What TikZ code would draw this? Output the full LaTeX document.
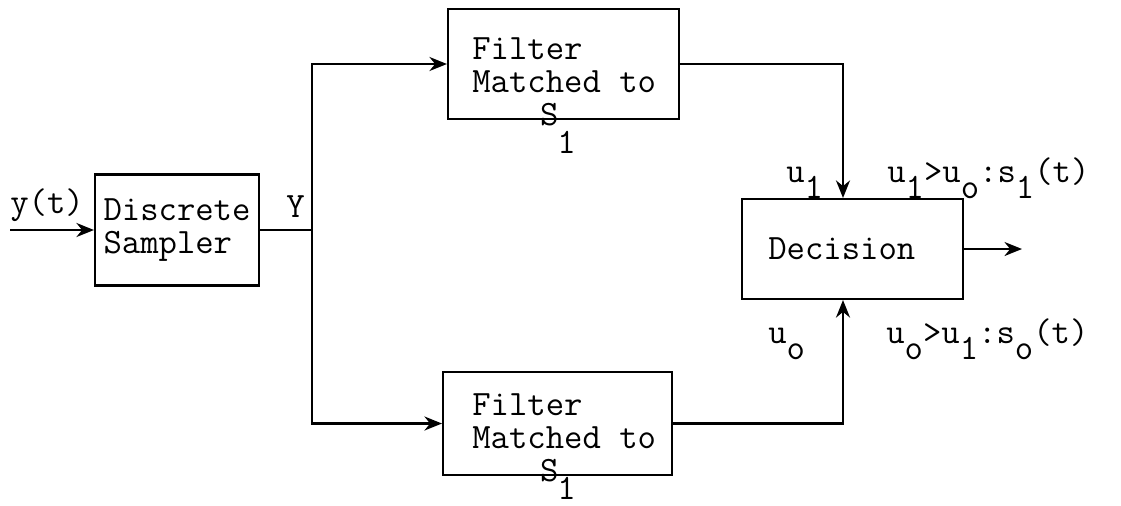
\documentclass[tikz,border=0pt]{standalone}
\usepackage{fontspec}
\usetikzlibrary{arrows.meta,positioning,calc}
\newcommand{\lo}[1]{\raisebox{-0.45em}{#1}}

\begin{document}
\begin{tikzpicture}[
    x=0.02cm, y=-0.02cm,
    font=\ttfamily\fontsize{20.3}{19}\selectfont,
    blk/.style={rectangle, draw=black, line width=1.2pt, inner sep=0pt, align=left},
    txt/.style={inner sep=0pt, align=left},
    arrow/.style={-{Stealth[length=10pt,width=8pt]}, line width=1.2pt},
    wire/.style={line width=1.2pt},
]
\useasboundingbox (0,0) rectangle (1121,505);

% Sampler
\node[blk, minimum width=3.28cm, minimum height=2.22cm] (samp) at (177,230) {Discrete\\Sampler};
\coordinate (yin) at (10,230);
\draw[arrow] (yin) -- (samp);
\node[txt, anchor=base west] (ylab) at (10,213) {y(t)};
\node[txt, anchor=base west] (Ylab) at (286,217) {Y};

% Split
\coordinate (split) at (312,230);
\draw[wire] (samp) -- (split);

% Matched filter 1
\node[blk, minimum width=4.62cm, minimum height=2.2cm] (mf1) at (563.5,64) {};
\node[txt, anchor=north west] (mf1txt) at (472,37) {Filter\\Matched to\\\hspace*{1.9em}S};
\node[txt, anchor=base west] (mf1sub) at (557,153) {1};
\draw[arrow] (split) |- (mf1.west);

% Matched filter 0
\node[blk, minimum width=4.58cm, minimum height=2.06cm] (mf0) at (557.5,423.5) {};
\node[txt, anchor=north west] (mf0txt) at (472,393) {Filter\\Matched to\\\hspace*{1.9em}S};
\node[txt, anchor=base west] (mf0sub) at (557,499) {1};
\draw[arrow] (split) |- (mf0.west);

% Decision
\node[blk, minimum width=4.42cm, minimum height=2.0cm] (dec) at (852.5,249) {Decision\hspace*{0.6em}};
\draw[arrow] (mf1.east) -| ($(dec.north)+(-9.5,0)$);
\draw[arrow] (mf0.east) -| ($(dec.south)+(-9.5,0)$);
\coordinate (dout) at (1022,249);
\draw[arrow] (dec) -- (dout);

% Labels
\node[txt, anchor=base west] (u1lab) at (786,182) {u\lo{1}};
\node[txt, anchor=base west] (r1lab) at (887,182) {u\lo{1}>u\lo{o}:s\lo{1}(t)};
\node[txt, anchor=base west] (u0lab) at (768,343) {u\lo{o}};
\node[txt, anchor=base west] (r0lab) at (886,343) {u\lo{o}>u\lo{1}:s\lo{o}(t)};
\end{tikzpicture}
\end{document}
